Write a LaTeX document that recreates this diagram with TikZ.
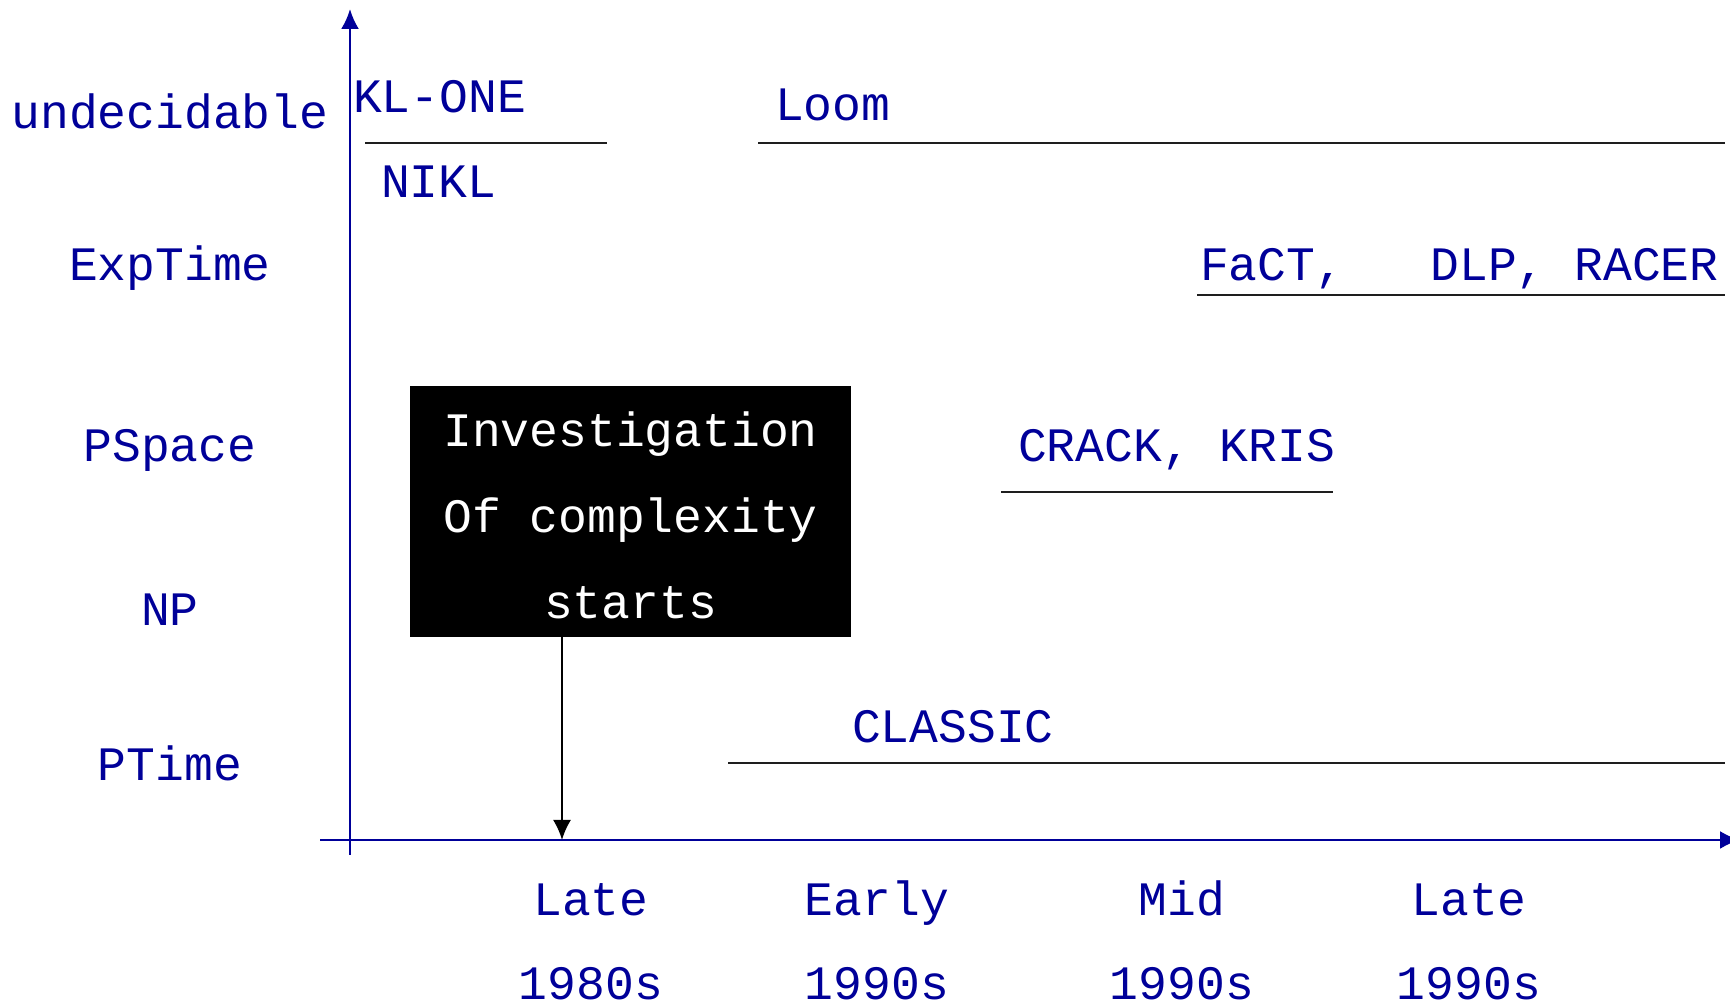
\documentclass[tikz,border=0pt]{standalone}
\usepackage{fontspec}
\setmainfont{Liberation Mono}
\usetikzlibrary{arrows.meta}
\definecolor{axisblue}{RGB}{0,0,153}
\definecolor{barline}{RGB}{30,30,30}

\begin{document}
\begin{tikzpicture}[x=0.1mm,y=-0.1mm,
  every node/.style={inner sep=0pt,outer sep=0pt,font=\fontsize{13.66pt}{16pt}\selectfont},
  lbl/.style={text=axisblue,anchor=base},
  sys/.style={text=axisblue,anchor=base west},
  bar/.style={barline,line width=0.6pt},
  axis/.style={axisblue,line width=0.7pt,-{Latex[length=2mm,width=1.8mm]}},
  infobox/.style={fill=black,text=white,align=center,minimum width=44.1mm,minimum height=25.1mm,
    font=\fontsize{13.66pt}{24.5pt}\selectfont}]
\useasboundingbox (0,0) rectangle (1730,1005);

\def\X{350}
\def\Y{840}

% Draw axes
\coordinate (yfoot) at (\X,855);
\coordinate (ytop) at (\X,9);
\coordinate (xfoot) at (320,\Y);
\coordinate (xend) at (1740,\Y);
\draw[axis] (yfoot) -- (ytop);
\draw[axis] (xfoot) -- (xend);

% Complexity classes
\foreach \y/\t [count=\i] in {129/undecidable, 281/ExpTime, 462/PSpace, 626/NP, 781/PTime}
    \node[lbl] (cls\i) at (170,\y) {\t};

% Decades
\foreach \x/\a/\b in {591/Late/1980s, 877/Early/1990s, 1182/Mid/1990s, 1469/Late/1990s} {
    \node[lbl] (top\x) at (\x,916) {\a};
    \node[lbl] (bot\x) at (\x,1000) {\b};
}

% Systems
\node[sys] (klone) at (353,113) {KL-ONE};
\draw[bar] (365,143) -- (607,143);
\node[sys] (nikl) at (381,198) {NIKL};

\node[sys] (loom) at (775,121) {Loom};
\draw[bar] (758,143) -- (1725,143);

\node[sys] (fact) at (1200,281) {FaCT,\ \ \ DLP, RACER};
\draw[bar] (1197,295) -- (1725,295);

\node[sys] (crack) at (1018,462) {CRACK, KRIS};
\draw[bar] (1001,492) -- (1333,492);

\node[sys] (classic) at (852,743) {CLASSIC};
\draw[bar] (728,763) -- (1725,763);

% Complexity box
\node[infobox] (inv) at (630.5,511.5) {\rule{0pt}{12pt}Investigation\\Of complexity\\starts};
\coordinate (hit) at (562,\Y);
\draw[black,line width=0.6pt,-{Latex[length=2mm,width=1.8mm]}] (inv.south -| hit) -- (hit);
\end{tikzpicture}
\end{document}
